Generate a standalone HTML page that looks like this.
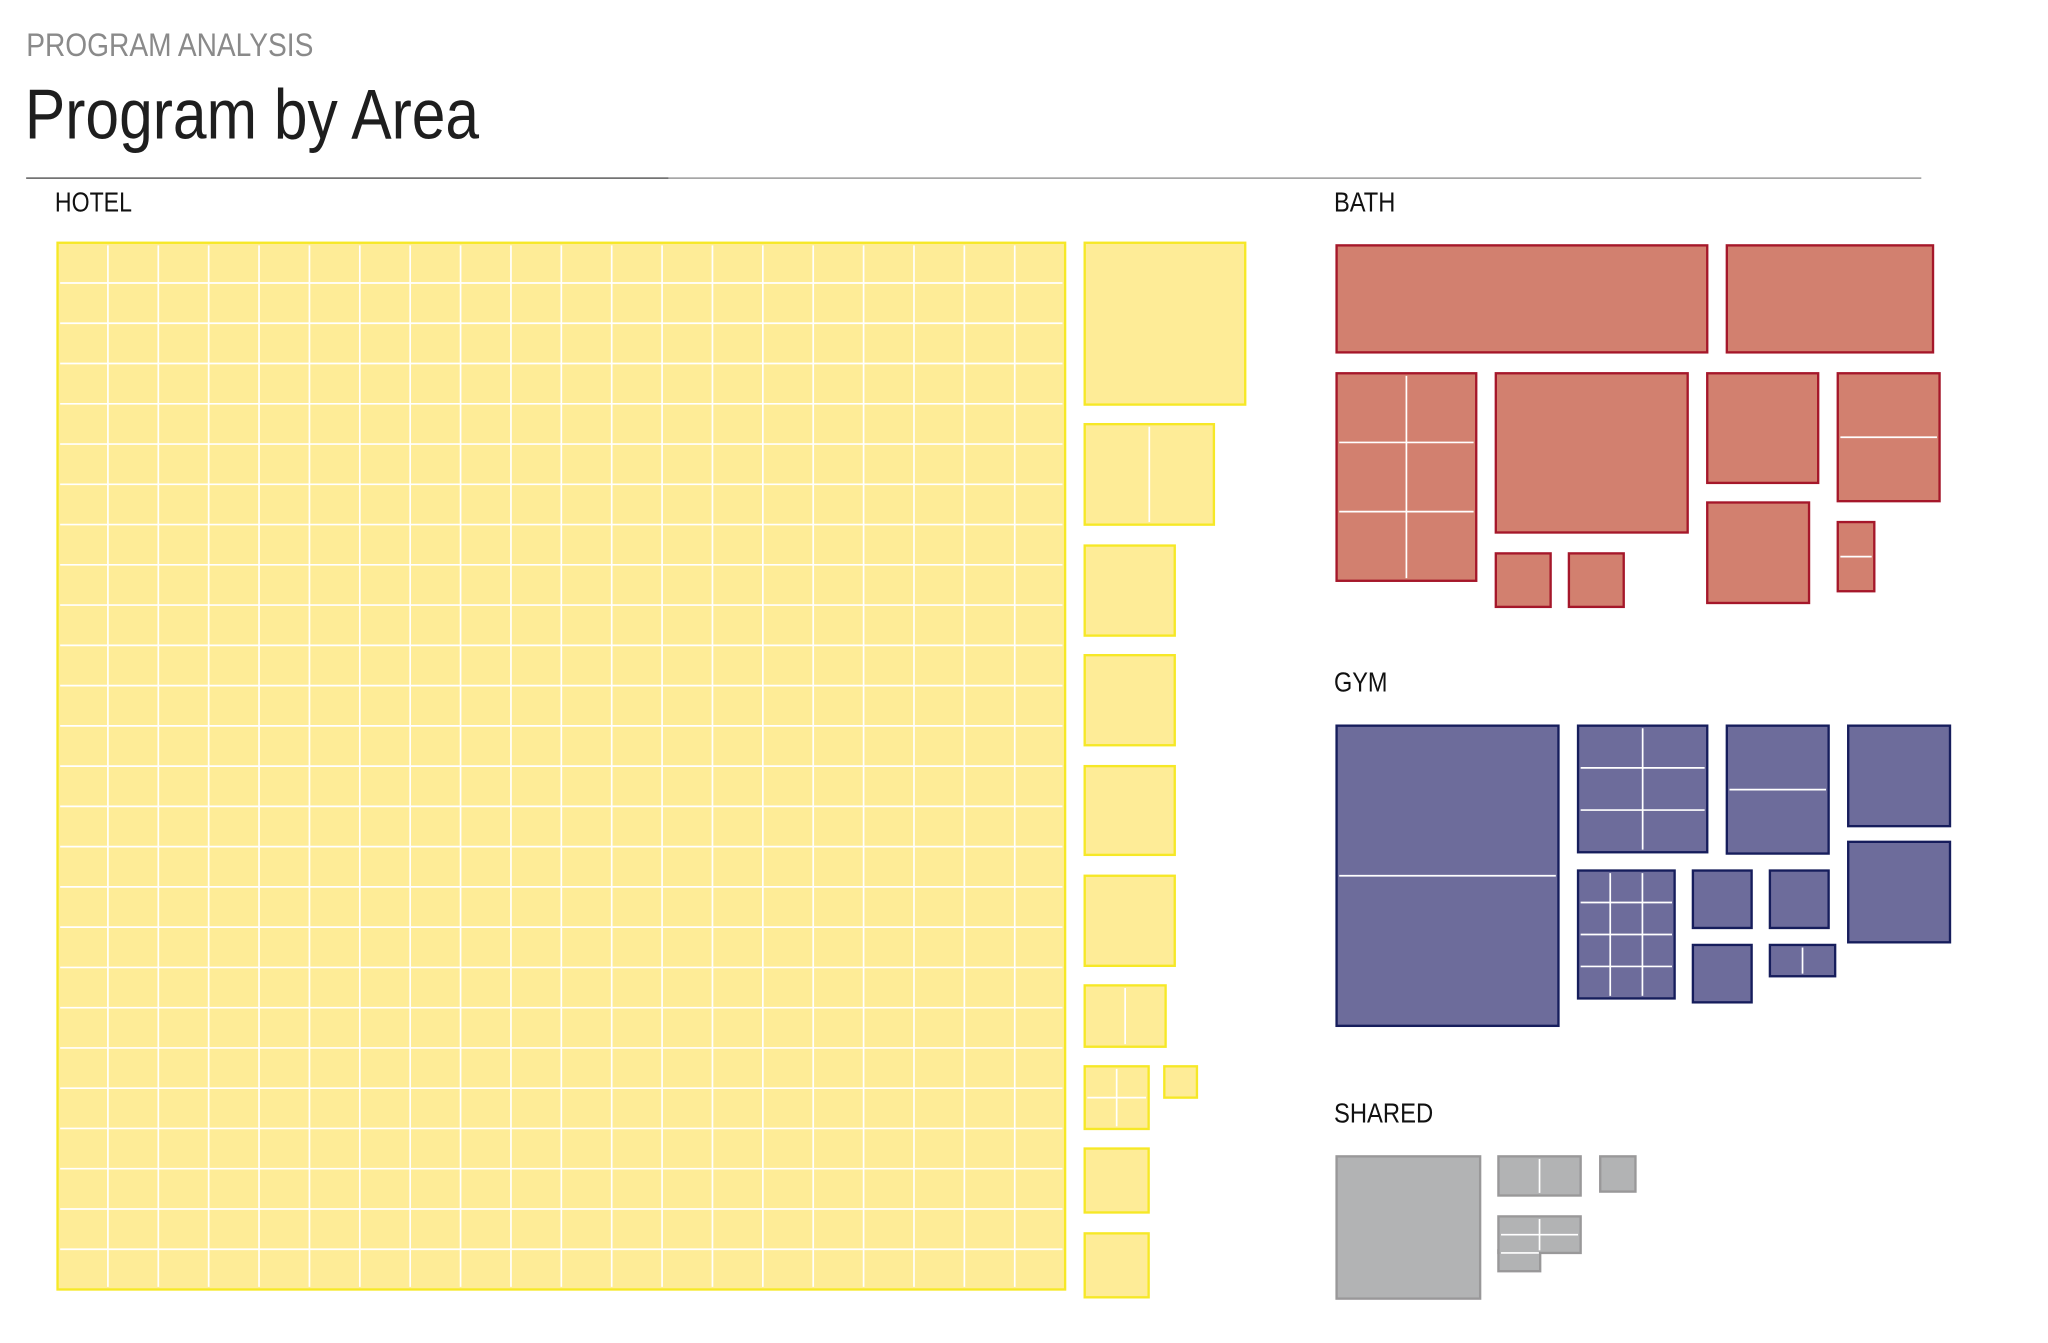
<!DOCTYPE html>
<html>
<head>
<meta charset="utf-8">
<style>
  html,body{margin:0;padding:0;background:#fff;}
  body{width:2048px;height:1343px;overflow:hidden;}
  svg{display:block;}
  text{font-family:"Liberation Sans Narrow","Liberation Sans",sans-serif;}
</style>
</head>
<body>
<svg id="chart" width="2048" height="1343" viewBox="0 0 1569 1029" xmlns="http://www.w3.org/2000/svg">
  <text x="20" y="43" font-size="25" fill="#8a8a8a" textLength="220" lengthAdjust="spacingAndGlyphs">PROGRAM ANALYSIS</text>
  <text x="19" y="106" font-size="54" fill="#1e1e1e" textLength="348" lengthAdjust="spacingAndGlyphs">Program by Area</text>
  <line x1="20" y1="136.5" x2="1472" y2="136.5" stroke="#9a9a9a" stroke-width="1.2"/>
  <line x1="20" y1="136.5" x2="512" y2="136.5" stroke="#6a6a6a" stroke-width="1.2"/>
  <text x="42" y="162" font-size="21" fill="#111" textLength="59" lengthAdjust="spacingAndGlyphs">HOTEL</text>
  <text x="1022" y="162" font-size="21" fill="#111" textLength="47" lengthAdjust="spacingAndGlyphs">BATH</text>
  <text x="1022" y="530" font-size="21" fill="#111" textLength="41" lengthAdjust="spacingAndGlyphs">GYM</text>
  <text x="1022" y="860" font-size="21" fill="#111" textLength="76" lengthAdjust="spacingAndGlyphs">SHARED</text>
  <g id="marks"></g>
</svg>
<script>
// Room blocks per program group: [left, top, right, bottom, cols, rows]
const hotelRooms = [
  [44,186,816,988,20,26],
  [831,186,954,310,1,1],
  [831,325,930,402,2,1],
  [831,418,900,487,1,1],
  [831,502,900,571,1,1],
  [831,587,900,655,1,1],
  [831,671,900,740,1,1],
  [831,755,893,802,2,1],
  [831,817,880,865,2,2],
  [892,817,917,841,1,1],
  [831,880,880,929,1,1],
  [831,945,880,994,1,1]
];
const bathRooms = [
  [1024,188,1308,270,1,1],
  [1323,188,1481,270,1,1],
  [1024,286,1131,445,2,3],
  [1146,286,1293,408,1,1],
  [1308,286,1393,370,1,1],
  [1408,286,1486,384,1,2],
  [1146,424,1188,465,1,1],
  [1202,424,1244,465,1,1],
  [1308,385,1386,462,1,1],
  [1408,400,1436,453,1,2]
];
const gymRooms = [
  [1024,556,1194,786,1,2],
  [1209,556,1308,653,2,3],
  [1323,556,1401,654,1,2],
  [1416,556,1494,633,1,1],
  [1416,645,1494,722,1,1],
  [1209,667,1283,765,3,4],
  [1297,667,1342,711,1,1],
  [1356,667,1401,711,1,1],
  [1297,724,1342,768,1,1],
  [1356,724,1406,748,2,1]
];
const sharedRooms = [
  [1024,886,1134,995,1,1],
  [1148,886,1211,916,2,1],
  [1226,886,1253,913,1,1],
  [1148,932,1211,960,2,2]
];
const sharedAnnex = [1148,960,1180,974];

const NS = "http://www.w3.org/2000/svg";
const marks = document.getElementById('marks');

function drawGroup(rooms, fill, stroke, name) {
  rooms.forEach(function(r, i) {
    const g = document.createElementNS(NS, 'g');
    
    
    const x = r[0], y = r[1], w = r[2] - r[0], h = r[3] - r[1];
    const rect = document.createElementNS(NS, 'rect');
    rect.setAttribute('x', x); rect.setAttribute('y', y);
    rect.setAttribute('width', w); rect.setAttribute('height', h);
    rect.setAttribute('fill', fill); rect.setAttribute('stroke', stroke);
    rect.setAttribute('stroke-width', '1.8');
    
    
    g.appendChild(rect);
    for (let c = 1; c < r[4]; c++) {
      const lx = x + w * c / r[4];
      const l = document.createElementNS(NS, 'line');
      l.setAttribute('x1', lx); l.setAttribute('x2', lx);
      l.setAttribute('y1', y + 2); l.setAttribute('y2', y + h - 2);
      l.setAttribute('stroke', '#fff'); l.setAttribute('stroke-width', '1.3');
      
      
      g.appendChild(l);
    }
    for (let k = 1; k < r[5]; k++) {
      const ly = y + h * k / r[5];
      const l = document.createElementNS(NS, 'line');
      l.setAttribute('x1', x + 2); l.setAttribute('x2', x + w - 2);
      l.setAttribute('y1', ly); l.setAttribute('y2', ly);
      l.setAttribute('stroke', '#fff'); l.setAttribute('stroke-width', '1.3');
      
      
      g.appendChild(l);
    }
    marks.appendChild(g);
  });
}

drawGroup(hotelRooms, '#feec97', '#f6e826', 'hotel');
drawGroup(bathRooms, '#d2806f', '#a5172a', 'bath');
drawGroup(gymRooms, '#6d6c9b', '#161d5c', 'gym');

(function() {
  const a = sharedAnnex;
  const rect = document.createElementNS(NS, 'rect');
  rect.setAttribute('x', a[0]); rect.setAttribute('y', a[1] - 2);
  rect.setAttribute('width', a[2] - a[0]); rect.setAttribute('height', a[3] - a[1] + 2);
  rect.setAttribute('fill', '#b2b3b4'); rect.setAttribute('stroke', '#999899');
  rect.setAttribute('stroke-width', '1.8');
  
  
  marks.appendChild(rect);
})();
drawGroup(sharedRooms, '#b2b3b4', '#999899', 'shared');
(function() {
  const a = sharedAnnex;
  const cover = document.createElementNS(NS, 'rect');
  cover.setAttribute('x', a[0] + 1); cover.setAttribute('y', a[1] - 1.5);
  cover.setAttribute('width', a[2] - a[0] - 2); cover.setAttribute('height', 3);
  cover.setAttribute('fill', '#b2b3b4');
  
  
  marks.appendChild(cover);
  const l = document.createElementNS(NS, 'line');
  l.setAttribute('x1', a[0] + 2); l.setAttribute('x2', a[2] - 1);
  l.setAttribute('y1', a[1]); l.setAttribute('y2', a[1]);
  l.setAttribute('stroke', '#fff'); l.setAttribute('stroke-width', '1.3');
  
  
  marks.appendChild(l);
})();
</script>
</body>
</html>
